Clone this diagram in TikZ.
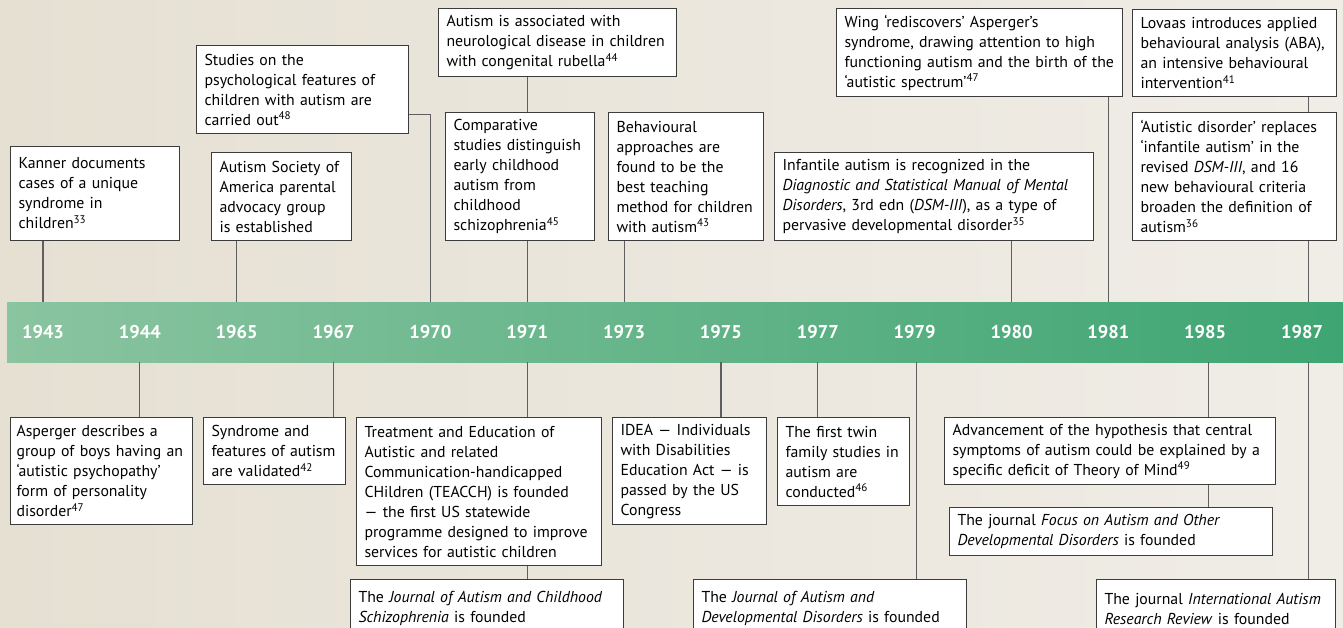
\documentclass[tikz,border=0pt]{standalone}
\usepackage{fontspec}
\setmainfont{PT Sans}
\usetikzlibrary{positioning}

\definecolor{bgleft}{RGB}{230,224,211}
\definecolor{bgright}{RGB}{240,237,231}
\definecolor{barleft}{RGB}{138,196,160}
\definecolor{barright}{RGB}{62,165,114}
\definecolor{linegrey}{RGB}{95,95,95}
\definecolor{boxline}{RGB}{60,60,60}

\tikzset{
    event/.style={draw=boxline, line width=1.1pt, fill=white, anchor=north west,
        align=left, inner xsep=8pt, inner ysep=0pt,
        font=\fontsize{15.8}{20}\selectfont},
    stem/.style={draw=linegrey, line width=1.1pt},
    yearlabel/.style={text=white, font=\fontsize{18.5}{20}\selectfont\bfseries},
    timebar/.style={anchor=north west, left color=barleft, right color=barright,
        minimum width=1336pt, minimum height=60pt, inner sep=0pt},
}
\newcommand{\fnref}[1]{\textsuperscript{#1}}

\begin{document}
\begin{tikzpicture}[x=1pt, y=-1pt]
    \useasboundingbox (0,0) rectangle (1343,627);
    \clip (0,0) rectangle (1343,627);
    \shade[left color=bgleft, right color=bgright] (0,0) rectangle (1343,627);

    % the time bar and its years
    \node[timebar] (bar) at (7,302) {};
    \foreach \yr [count=\i from 0] in {1943,1944,1965,1967,1970,1971,1973,1975,1977,1979,1980,1981,1985,1987}
        \node[yearlabel] (y\yr) at ({43+96.85*\i},332) {\yr};

    % events above the bar
    \node[event, text width=153pt, minimum height=94pt] (kanner) at (10,146)
        {Kanner documents\\cases of a unique\\syndrome in\\children\fnref{33}};
    \node[event, text width=196pt, minimum height=88pt] (studies) at (196,45)
        {Studies on the\\psychological features of\\children with autism are\\carried out\fnref{48}};
    \node[event, text width=124pt, minimum height=88pt] (society) at (211,152)
        {Autism Society of\\America parental\\advocacy group\\is established};
    \node[event, text width=222pt, minimum height=68pt] (rubella) at (438,8)
        {Autism is associated with\\neurological disease in children\\with congenital rubella\fnref{44}};
    \node[event, text width=133pt, minimum height=128pt] (compare) at (445,112)
        {Comparative\\studies distinguish\\early childhood\\autism from\\childhood\\schizophrenia\fnref{45}};
    \node[event, text width=139pt, minimum height=128pt] (behaviour) at (608,112)
        {Behavioural\\approaches are\\found to be the\\best teaching\\method for children\\with autism\fnref{43}};
    \node[event, text width=270pt, minimum height=88pt] (wing) at (836,8)
        {Wing ‘rediscovers’ Asperger’s\\syndrome, drawing attention to high\\functioning autism and the birth of the\\‘autistic spectrum’\fnref{47}};
    \node[event, text width=303pt, minimum height=88pt] (dsm) at (774,152)
        {Infantile autism is recognized in the\\\textit{Diagnostic and Statistical Manual of Mental}\\\textit{Disorders}, 3rd edn (\textit{DSM-III}), as a type of\\pervasive developmental disorder\fnref{35}};
    \node[event, text width=188pt, minimum height=87pt] (lovaas) at (1132,9)
        {Lovaas introduces applied\\behavioural analysis (ABA),\\an intensive behavioural\\intervention\fnref{41}};
    \node[event, text width=188pt, minimum height=128pt] (autdis) at (1132,112)
        {‘Autistic disorder’ replaces\\‘infantile autism’ in the\\revised \textit{DSM-III}, and 16\\new behavioural criteria\\broaden the definition of\\autism\fnref{36}};

    % events below the bar
    \node[event, inner xsep=6pt, text width=170pt, minimum height=107pt] (asperger) at (10,417)
        {Asperger describes a\\group of boys having an\\‘autistic psychopathy’\\form of personality\\disorder\fnref{47}};
    \node[event, text width=126pt, minimum height=67pt] (syndrome) at (203,417)
        {Syndrome and\\features of autism\\are validated\fnref{42}};
    \node[event, text width=229pt, minimum height=148pt] (teacch) at (356,417)
        {Treatment and Education of\\Autistic and related\\Communication-handicapped\\CHildren (TEACCH) is founded\\— the first US statewide\\programme designed to improve\\services for autistic children};
    \node[event, text width=257pt, minimum height=58pt] (jacs) at (350,579)
        {The \textit{Journal of Autism and Childhood}\\\textit{Schizophrenia} is founded};
    \node[event, text width=138pt, minimum height=107pt] (idea) at (612,417)
        {IDEA — Individuals\\with Disabilities\\Education Act — is\\passed by the US\\Congress};
    \node[event, text width=116pt, minimum height=88pt] (twin) at (777,417)
        {The first twin\\family studies in\\autism are\\conducted\fnref{46}};
    \node[event, text width=257pt, minimum height=58pt] (jadd) at (693,579)
        {The \textit{Journal of Autism and}\\\textit{Developmental Disorders} is founded};
    \node[event, text width=315pt, minimum height=67pt] (mind) at (944,417)
        {Advancement of the hypothesis that central\\symptoms of autism could be explained by a\\specific deficit of Theory of Mind\fnref{49}};
    \node[event, text width=307pt, minimum height=48pt] (focus) at (949,507)
        {The journal \textit{Focus on Autism and Other}\\\textit{Developmental Disorders} is founded};
    \node[event, text width=223pt, minimum height=58pt] (iarr) at (1096,579)
        {The journal \textit{International Autism}\\\textit{Research Review} is founded};

    % stems to the bar
    \draw[stem] (y1943 |- kanner.south) -- (y1943 |- bar.north);
    \draw[stem] (y1944 |- bar.south) -- (y1944 |- asperger.north);
    \draw[stem] (y1965 |- society.south) -- (y1965 |- bar.north);
    \draw[stem] (y1967 |- bar.south) -- (y1967 |- syndrome.north);
    \draw[stem] ([yshift=20pt]studies.south east) -| (y1970 |- bar.north);
    \draw[stem] (y1971 |- rubella.south) -- (y1971 |- compare.north);
    \draw[stem] (y1971 |- compare.south) -- (y1971 |- bar.north);
    \draw[stem] (y1971 |- bar.south) -- (y1971 |- teacch.north);
    \draw[stem] (y1971 |- teacch.south) -- (y1971 |- jacs.north);
    \draw[stem] (y1973 |- behaviour.south) -- (y1973 |- bar.north);
    \draw[stem] (y1975 |- bar.south) -- (y1975 |- idea.north);
    \draw[stem] (y1977 |- bar.south) -- (y1977 |- twin.north);
    \draw[stem] ([xshift=2pt]y1979 |- bar.south) -- ([xshift=2pt]y1979 |- jadd.north);
    \draw[stem] (y1980 |- dsm.south) -- (y1980 |- bar.north);
    \draw[stem] (y1981 |- wing.south) -- (y1981 |- bar.north);
    \draw[stem] ([xshift=3pt]y1985 |- bar.south) -- ([xshift=3pt]y1985 |- mind.north);
    \draw[stem] ([xshift=3pt]y1985 |- mind.south) -- ([xshift=3pt]y1985 |- focus.north);
    \draw[stem] ([xshift=6pt]y1987 |- lovaas.south) -- ([xshift=6pt]y1987 |- autdis.north);
    \draw[stem] ([xshift=6pt]y1987 |- autdis.south) -- ([xshift=6pt]y1987 |- bar.north);
    \draw[stem] ([xshift=6pt]y1987 |- bar.south) -- ([xshift=6pt]y1987 |- iarr.north);
\end{tikzpicture}
\end{document}
